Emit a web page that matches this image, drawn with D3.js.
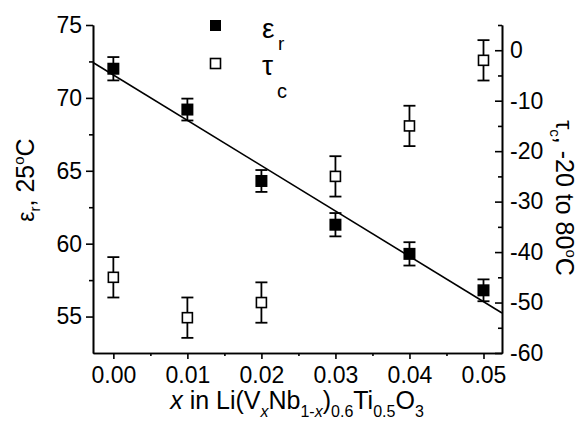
<!DOCTYPE html>
<html>
<head>
<meta charset="utf-8">
<script src="https://cdn.jsdelivr.net/npm/d3@7.9.0/dist/d3.min.js"></script>
<style>
  html, body { margin: 0; padding: 0; background: #fff; }
  svg { display: block; font-family: 'Liberation Sans', Arial, sans-serif; }
  .axis path, .axis line { stroke: #000; stroke-width: 1.6; }
  .axis text { font-size: 23px; fill: #000; }
</style>
</head>
<body>
<svg id="chart" width="583" height="425"></svg>
<script>
// x in Li(VxNb1-x)0.6Ti0.5O3
const xValues = [0.00, 0.01, 0.02, 0.03, 0.04, 0.05];

// dielectric constant at 25 C (left axis)
const epsR = [72.0, 69.2, 64.3, 61.3, 59.3, 56.8];
const epsErr = [0.8, 0.75, 0.75, 0.8, 0.8, 0.75];

// temperature coefficient, -20 to 80 C (right axis)
const tauC = [-45, -53, -50, -25, -15, -2];
const tauErr = [4, 4, 4, 4, 4, 4];

// linear fit through eps_r
const fitSlope = -311;
const fitIntercept = 71.57;

const xTicks = [0.00, 0.01, 0.02, 0.03, 0.04, 0.05];
const leftTicks = [55, 60, 65, 70, 75];
const rightTicks = [0, -10, -20, -30, -40, -50, -60];

const margin = { top: 25, right: 81, bottom: 72, left: 93 };
const width = 583, height = 425;

const svg = d3.select('#chart');

const x = d3.scaleLinear()
  .domain([-0.00275, 0.0525])
  .range([margin.left, width - margin.right]);

const yL = d3.scaleLinear()
  .domain([52.5, 75])
  .range([height - margin.bottom, margin.top]);

const yR = d3.scaleLinear()
  .domain([-60, 5])
  .range([height - margin.bottom, margin.top]);

// minor ticks
const minorX = d3.range(0.005, 0.052, 0.01);
const minorL = [57.5, 62.5, 67.5, 72.5];
const minorR = d3.range(-55, 6, 10);

svg.append('g')
  .attr('class', 'axis')
  .attr('transform', `translate(0,${height - margin.bottom})`)
  .call(d3.axisBottom(x).tickValues(minorX).tickSize(3).tickFormat('').tickSizeOuter(0));

svg.append('g')
  .attr('class', 'axis')
  .attr('transform', `translate(0,${height - margin.bottom})`)
  .call(d3.axisBottom(x).tickValues(xTicks).tickSize(6).tickSizeOuter(0)
    .tickFormat(d3.format('.2f')))
  .call((g) => g.selectAll('text').attr('dy', '0.92em'));

svg.append('g')
  .attr('class', 'axis')
  .attr('transform', `translate(${margin.left},0)`)
  .call(d3.axisLeft(yL).tickValues(minorL).tickSize(4).tickFormat('').tickSizeOuter(0));

svg.append('g')
  .attr('class', 'axis')
  .attr('transform', `translate(${margin.left},0)`)
  .call(d3.axisLeft(yL).tickValues(leftTicks).tickSize(7).tickSizeOuter(0).tickPadding(4));

// right axis: ticks point inward, labels outside
svg.append('g')
  .attr('class', 'axis')
  .attr('transform', `translate(${width - margin.right},0)`)
  .call(d3.axisRight(yR).tickValues(minorR).tickSize(-4).tickFormat('').tickSizeOuter(0));

const rAxis = svg.append('g')
  .attr('class', 'axis')
  .attr('transform', `translate(${width - margin.right},0)`)
  .call(d3.axisRight(yR).tickValues(rightTicks).tickSize(-7).tickSizeOuter(0)
    .tickFormat((d) => (d < 0 ? '-' + Math.abs(d) : d)));
rAxis.selectAll('text').attr('x', 8);

// fitted line
const fitLine = svg.append('g');
const [x0, x1] = x.domain();
fitLine.append('line')
  .attr('x1', x(x0))
  .attr('y1', yL(fitIntercept + fitSlope * x0))
  .attr('x2', x(x1))
  .attr('y2', yL(fitIntercept + fitSlope * x1))
  .attr('stroke', '#000')
  .attr('stroke-width', 1.6);

const epsData = xValues.map((v, i) => ({ x: v, y: epsR[i], e: epsErr[i] }));
const tauData = xValues.map((v, i) => ({ x: v, y: tauC[i], e: tauErr[i] }));

function drawErrorBars(data, scale) {
  const g = svg.append('g').attr('stroke', '#000').attr('stroke-width', 1.8);
  g.selectAll('line.v')
    .data(data)
    .join('line')
    .attr('x1', (d) => x(d.x)).attr('x2', (d) => x(d.x))
    .attr('y1', (d) => scale(d.y - d.e)).attr('y2', (d) => scale(d.y + d.e));
  for (const end of [-1, 1]) {
    g.selectAll(null)
      .data(data)
      .join('line')
      .attr('x1', (d) => x(d.x) - 6).attr('x2', (d) => x(d.x) + 6)
      .attr('y1', (d) => scale(d.y + end * d.e)).attr('y2', (d) => scale(d.y + end * d.e));
  }
}

drawErrorBars(epsData, yL);
drawErrorBars(tauData, yR);

svg.append('g')
  .selectAll('rect')
  .data(epsData)
  .join('rect')
  .attr('x', (d) => x(d.x) - 6)
  .attr('y', (d) => yL(d.y) - 6)
  .attr('width', 12)
  .attr('height', 12)
  .attr('fill', '#000');

svg.append('g')
  .selectAll('rect')
  .data(tauData)
  .join('rect')
  .attr('x', (d) => x(d.x) - 5)
  .attr('y', (d) => yR(d.y) - 5)
  .attr('width', 10)
  .attr('height', 10)
  .attr('fill', '#fff')
  .attr('stroke', '#000')
  .attr('stroke-width', 1.6);

// legend
const legend = svg.append('g');
legend.append('rect')
  .attr('x', 210).attr('y', 20).attr('width', 11).attr('height', 11)
  .attr('fill', '#000');
legend.append('rect')
  .attr('x', 210.5).attr('y', 58.5).attr('width', 10).attr('height', 10)
  .attr('fill', '#fff').attr('stroke', '#000').attr('stroke-width', 1.6);

const legEps = legend.append('text').attr('x', 262).attr('y', 38).attr('font-size', 28);
legEps.append('tspan').text('ε');
legEps.append('tspan').attr('x', 278).attr('dy', 12).attr('font-size', 19).text('r');

const legTau = legend.append('text').attr('x', 262).attr('y', 75).attr('font-size', 28);
legTau.append('tspan').text('τ');
legTau.append('tspan').attr('x', 277).attr('dy', 23).attr('font-size', 20).text('c');

// left axis label
const lLab = svg.append('text')
  .attr('transform', 'translate(34,180) rotate(-90)')
  .attr('text-anchor', 'middle')
  .attr('font-size', 25);
lLab.append('tspan').attr('font-size', 23).text('ε');
lLab.append('tspan').attr('font-size', 15).attr('dy', 6).text('r');
lLab.append('tspan').attr('dy', -6).text(', 25');
lLab.append('tspan').attr('font-size', 15).attr('dy', -10).text('o');
lLab.append('tspan').attr('dy', 10).text('C');

// right axis label
const rLab = svg.append('text')
  .attr('transform', 'translate(556,198) rotate(90)')
  .attr('text-anchor', 'middle')
  .attr('font-size', 25);
rLab.append('tspan').attr('font-size', 23).text('τ');
rLab.append('tspan').attr('font-size', 15).attr('dy', 6).text('c');
rLab.append('tspan').attr('dy', -6).text(', -20 to 80');
rLab.append('tspan').attr('font-size', 15).attr('dy', -10).text('o');
rLab.append('tspan').attr('dy', 10).text('C');

// x axis label
const xLab = svg.append('text')
  .attr('x', 297)
  .attr('y', 409)
  .attr('text-anchor', 'middle')
  .attr('font-size', 25);
xLab.append('tspan').attr('font-style', 'italic').text('x');
xLab.append('tspan').text(' in Li(V');
xLab.append('tspan').attr('font-size', 16).attr('dy', 8).attr('font-style', 'italic').text('x');
xLab.append('tspan').attr('dy', -8).text('Nb');
xLab.append('tspan').attr('font-size', 16).attr('dy', 8).text('1-');
xLab.append('tspan').attr('font-size', 16).attr('font-style', 'italic').text('x');
xLab.append('tspan').attr('dy', -8).text(')');
xLab.append('tspan').attr('font-size', 16).attr('dy', 8).text('0.6');
xLab.append('tspan').attr('dy', -8).text('Ti');
xLab.append('tspan').attr('font-size', 16).attr('dy', 8).text('0.5');
xLab.append('tspan').attr('dy', -8).text('O');
xLab.append('tspan').attr('font-size', 16).attr('dy', 8).text('3');
</script>
</body>
</html>
